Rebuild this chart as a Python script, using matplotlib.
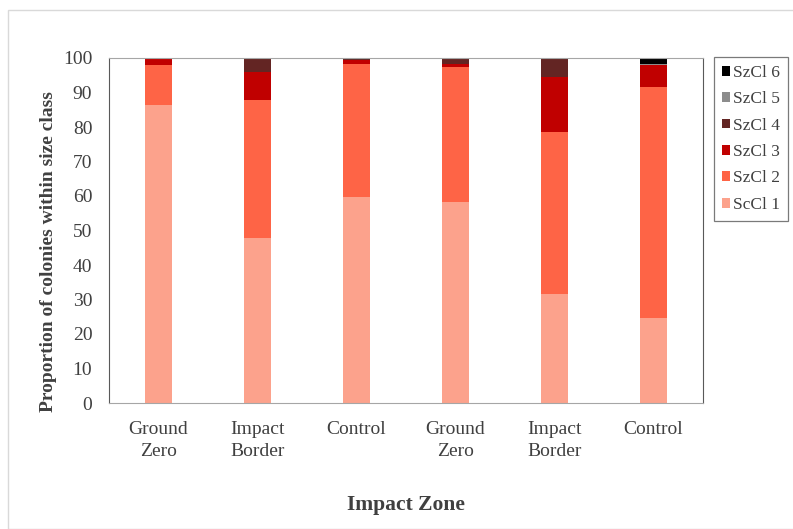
import numpy as np
import matplotlib.pyplot as plt
from matplotlib.patches import Rectangle

plt.rcParams['font.family'] = ['Liberation Serif', 'DejaVu Serif']

zones = ['Ground\nZero', 'Impact\nBorder', 'Control', 'Ground\nZero', 'Impact\nBorder', 'Control']
classes = ['ScCl 1', 'SzCl 2', 'SzCl 3', 'SzCl 4', 'SzCl 5', 'SzCl 6']
colors = ['#FCA28C', '#FE6446', '#C00000', '#632523', '#8C8C8C', '#000000']

sc1 = [86.5, 47.7, 59.6, 58.2, 31.5, 24.7]
sc2 = [11.5, 40.1, 38.7, 39.2, 47.0, 66.9]
sc3 = [2.0, 8.1, 1.2, 0.9, 16.0, 6.5]
sc4 = [0.0, 4.1, 0.5, 1.7, 5.2, 0.0]
sc5 = [0.0, 0.0, 0.0, 0.0, 0.3, 0.3]
sc6 = [0.0, 0.0, 0.0, 0.0, 0.0, 1.6]
series = [sc1, sc2, sc3, sc4, sc5, sc6]

txt = '#404040'
fig = plt.figure(figsize=(7.93, 5.29), dpi=100, facecolor='w')
fig.patches.append(Rectangle((8/793, 0), 1, 1 - 10/529, transform=fig.transFigure,
                             fill=False, edgecolor='#d9d9d9', lw=1))
ax = fig.add_axes([109/793, 1 - 403/529, (703 - 109)/793, (403 - 58)/529])

x = np.arange(len(zones))
bottom = np.zeros(len(zones))
handles = []
for vals, c, lab in zip(series, colors, classes):
    b = ax.bar(x, vals, 0.28, bottom=bottom, color=c, label=lab)
    bottom += np.array(vals)
    handles.append(b)

ax.set_xlim(-0.5, 5.5)
ax.set_ylim(0, 100)
ax.set_yticks(np.arange(0, 101, 10))
ax.set_xticks(x)
ax.set_xticklabels(zones, fontsize=14, color=txt, linespacing=1.4)
ax.tick_params(axis='both', length=0, labelsize=14, labelcolor=txt)
ax.tick_params(axis='x', pad=13)
ax.tick_params(axis='y', pad=12)
for s in ['left', 'right']:
    ax.spines[s].set_color('#595959')
for s in ['top', 'bottom']:
    ax.spines[s].set_color('#a6a6a6')

ax.set_ylabel('Proportion of colonies within size class', fontsize=14,
              fontweight='bold', color=txt)
ax.yaxis.set_label_coords(-0.088, 0.44)
ax.set_xlabel('Impact Zone', fontsize=15.5, fontweight='bold', color=txt, labelpad=25)

leg = fig.legend(handles[::-1], classes[::-1], loc='upper left',
                 bbox_to_anchor=(714/793, 1 - 57/529), fontsize=12.5,
                 frameon=True, fancybox=False, edgecolor='#595959',
                 handlelength=0.5, handleheight=0.5, handletextpad=0.15,
                 labelspacing=0.6, borderpad=0.45, borderaxespad=0)
leg.get_frame().set_linewidth(0.9)
for t in leg.get_texts():
    t.set_color(txt)

fig.savefig('out.png', dpi=100)
